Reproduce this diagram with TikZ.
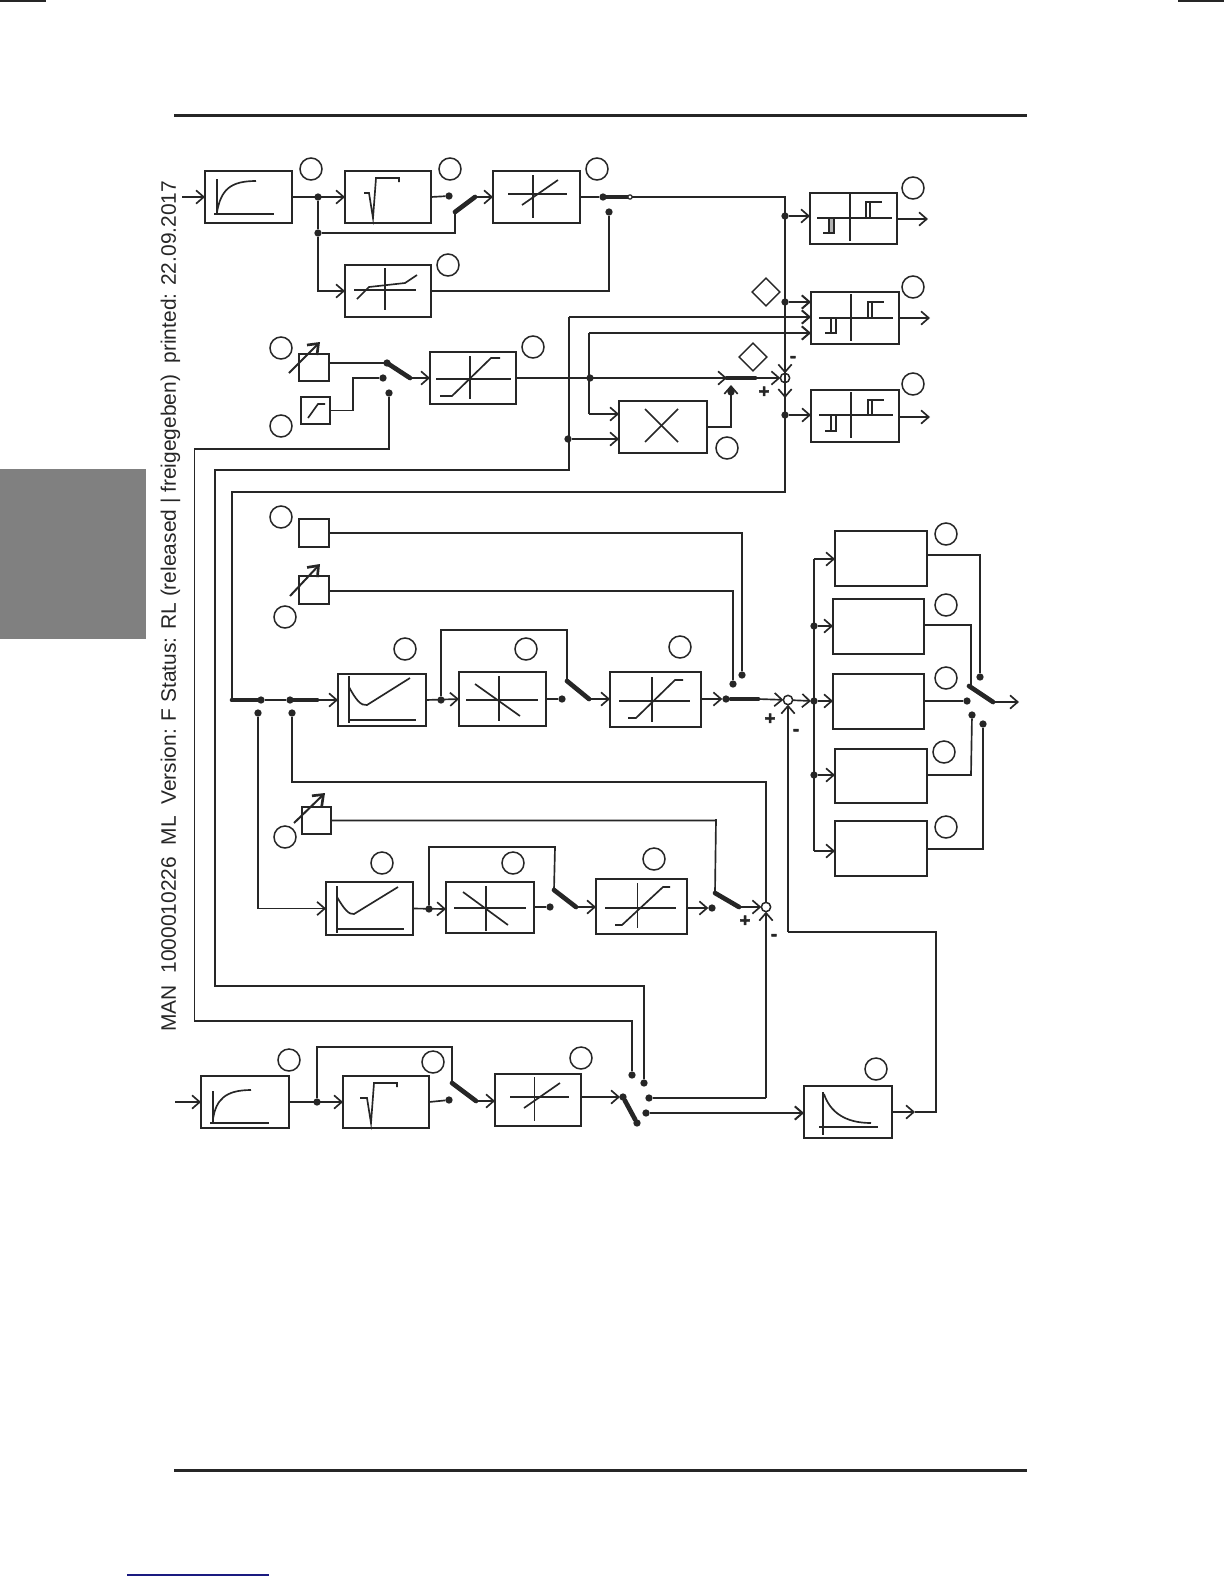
\documentclass[tikz,border=0pt]{standalone}
\usepackage{fontspec}
\setmainfont{Liberation Sans}
\newfontfamily\sgnfont[FakeBold=2.5]{Liberation Sans Bold}
\usetikzlibrary{arrows.meta,shapes.geometric}
\definecolor{ink}{HTML}{262626}
\definecolor{navy}{HTML}{1A1A80}
\tikzset{
  ln/.style={draw=ink,line width=1pt},
  bold/.style={draw=ink,line width=1.35pt},
  arr/.style={ln,-{Straight Barb[length=4.6pt,width=8pt,line width=1pt]}},
  barr/.style={bold,-{Straight Barb[length=4.6pt,width=8pt,line width=1.2pt]}},
  sw/.style={draw=ink,line width=2.8pt,line cap=round},
  setarr/.style={draw=ink,line width=1.2pt,-{Straight Barb[length=5.5pt,width=8.5pt,line width=1.6pt]}},
  blk/.style={draw=ink,line width=1.1pt,fill=white,inner sep=0pt,outer sep=0pt},
  ringn/.style={circle,draw=ink,line width=0.9pt,inner sep=0pt,minimum size=13.2pt},
  dotn/.style={circle,fill=ink,inner sep=0pt,outer sep=0pt,minimum size=4.4pt},
  smalld/.style={circle,draw=ink,line width=0.7pt,fill=white,inner sep=0pt,outer sep=0pt,minimum size=2.6pt},
  sumn/.style={circle,draw=ink,line width=0.9pt,fill=white,inner sep=0pt,outer sep=0pt,minimum size=5.6pt},
  diam/.style={diamond,draw=ink,line width=0.9pt,inner sep=0pt,minimum size=17pt,aspect=1},
  gl/.style={draw=ink,line width=1pt},
  glb/.style={draw=ink,line width=1.2pt},
  sgn/.style={font=\sgnfont\fontsize{11pt}{11pt}\selectfont,text=ink,inner sep=0pt},
}
\newcommand{\blk}[5]{\node[blk,minimum width={(#4-#2)*0.6pt},minimum height={(#5-#3)*0.6pt}] (#1) at ({(#2+#4)/2},{(#3+#5)/2}) {};}
\newcommand{\Ring}[3]{\node[ringn] (#1) at (#2,#3) {};}
\newcommand{\dt}[3]{\node[dotn] (#1) at (#2,#3) {};}
\newcommand{\pnt}[3]{\coordinate (#1) at (#2,#3);}
\begin{document}
\begin{tikzpicture}[x=0.6pt,y=-0.6pt]
\useasboundingbox (0,0) rectangle (1224,1584);
% page furniture
\fill[ink] (0,0.3) rectangle (46,2);
\fill[ink] (1178,0.3) rectangle (1224,2);
\fill[ink] (174,114) rectangle (1027,117);
\fill[ink] (174,1469) rectangle (1027,1471.5);
\fill[navy] (127,1574.4) rectangle (269,1575.6);
\fill[black!50] (0,469) rectangle (146,639);
\node[rotate=90,anchor=west,inner sep=0pt,text=ink,font=\fontsize{12.57pt}{12.6pt}\selectfont] (hdr) at (170.5,1032) {MAN\ \ 1000010226\ \ ML\ \ Version: F Status: RL (released | freigegeben)\ \ printed: 22.09.2017};
% blocks
\blk{A}{205}{171}{292}{223}
\blk{B}{345}{171}{431}{223}
\blk{C}{493}{171}{580}{223}
\blk{D}{345}{265}{431}{317}
\blk{E}{299}{354}{329}{381}
\blk{F}{301}{397}{330}{424}
\blk{G}{430}{352}{516}{404}
\blk{Mul}{619}{401}{707}{453}
\blk{HA}{810}{193}{897}{244}
\blk{HB}{811}{292}{899}{344}
\blk{HC}{811}{390}{899}{442}
\blk{J}{299}{519}{329}{547}
\blk{K}{299}{576}{329}{604}
\blk{L}{338}{674}{426}{726}
\blk{M}{459}{672}{546}{726}
\blk{N}{610}{672}{701}{727}
\blk{QA}{835}{531}{927}{586}
\blk{QB}{833}{599}{924}{654}
\blk{QC}{833}{674}{924}{729}
\blk{QD}{835}{749}{927}{803}
\blk{QE}{835}{821}{927}{876}
\blk{Kb}{302}{807}{331}{834}
\blk{Lb}{326}{882}{413}{935}
\blk{Mb}{446}{882}{534}{933}
\blk{Nb}{596}{879}{687}{934}
\blk{R}{201}{1076}{289}{1128}
\blk{S}{343}{1076}{429}{1128}
\blk{T}{495}{1074}{581}{1126}
\blk{P}{804}{1086}{892}{1138}
% rings
\Ring{c1}{311}{169}\Ring{c2}{450}{169}\Ring{c3}{597}{169}\Ring{c4}{448}{265}
\Ring{c5}{281}{348}\Ring{c6}{281}{426}\Ring{c7}{533}{347}\Ring{c8}{727}{448}
\Ring{c9}{913}{188}\Ring{c10}{913}{287}\Ring{c11}{913}{384}
\Ring{c12}{281}{517}\Ring{c13}{285}{617}\Ring{c14}{405}{649}\Ring{c15}{526}{649}\Ring{c16}{680}{647}
\Ring{c17}{946}{534}\Ring{c18}{946}{605}\Ring{c19}{946}{678}\Ring{c20}{944}{752}\Ring{c21}{946}{827}
\Ring{c22}{285}{837}\Ring{c23}{382}{863}\Ring{c24}{513}{863}\Ring{c25}{654}{859}
\Ring{c26}{289}{1060}\Ring{c27}{433}{1062}\Ring{c28}{581}{1058}\Ring{c29}{876}{1069}
\node[diam] (dA) at (766,292) {};
\node[diam] (dB) at (753,357) {};
% summing points
\node[sumn] (sumA) at (785,378) {};
\node[sumn] (sumB) at (788,700) {};
\node[sumn] (sumC) at (766,907) {};
% signs
\node[sgn] (pA) at (764,392) {+};
\node[sgn] (mA) at (793,359) {-};
\node[sgn] (pB) at (770,719) {+};
\node[sgn] (mB) at (796,732) {-};
\node[sgn] (pC) at (745,921) {+};
\node[sgn] (mC) at (774,937) {-};
% junctions and contacts
\dt{jA}{318}{197}\dt{jB}{318}{233}\dt{kA}{449}{196}
\pnt{sAp}{455}{212}\pnt{sAq}{475}{197}
\dt{kB}{603}{197}\dt{kC}{609}{212}\pnt{kD}{630}{197}
\dt{tA}{785}{216}\dt{tB}{785}{302}\dt{tC}{785}{415}
\pnt{sBp}{387}{363}\pnt{sBq}{410}{378}\dt{kE}{387}{363}\dt{kF}{383}{378}\dt{kG}{389}{393}
\dt{jC}{590}{378}\dt{jD}{568}{439}
\pnt{tkA}{727}{378}\pnt{tkB}{755}{378}\dt{kH}{731}{392}\pnt{tkC}{731}{385}
\pnt{rA}{232}{700}\dt{rB}{261}{700}\dt{rC}{290}{700}\pnt{rD}{317}{700}
\dt{rE}{258}{713}\dt{rF}{292}{713}
\dt{jE}{441}{700}\dt{kI}{562}{699}\pnt{sCp}{567}{681}\pnt{sCq}{589}{699}
\dt{kJ}{726}{699}\pnt{tkD}{731}{699}\pnt{tkE}{758}{699}
\dt{kK}{742}{675}\dt{kL}{733}{684}
\dt{bB}{814}{626}\dt{bC}{814}{701}\dt{bD}{814}{775}
\pnt{bA}{814}{559}\pnt{bE}{814}{851}
\pnt{sDp}{969}{686}\pnt{sDq}{993}{702}
\dt{kM}{980}{677}\dt{kN}{967}{701}\dt{kO}{972}{715}\dt{kP}{983}{724}
\dt{jF}{429}{909}\dt{kQ}{550}{907}\pnt{sEp}{554}{890}\pnt{sEq}{576}{907}
\dt{kR}{712}{908}\pnt{sFp}{715}{893}\pnt{sFq}{739}{907}
\dt{jG}{317}{1102}\dt{kS}{449}{1100}\pnt{sGp}{452}{1083}\pnt{sGq}{476}{1101}
\dt{kT}{623}{1097}\dt{kU}{637}{1123}\dt{kV}{649}{1098}\dt{kW}{646}{1113}\dt{kX}{632}{1075}\dt{kY}{644}{1083}
% routing points
\pnt{inA}{182}{197}\pnt{inR}{175}{1102}
\pnt{oA}{928}{219}\pnt{oB}{930}{318}\pnt{oC}{930}{417}
\pnt{vA}{785}{197}\pnt{vB}{785}{492}\pnt{vC}{785}{398}\pnt{vD}{232}{492}
\pnt{wA}{194.5}{449}\pnt{wB}{194.5}{1021}\pnt{wC}{632}{1021}
\pnt{xA}{569}{317}\pnt{xB}{569}{470}\pnt{xC}{215}{470}\pnt{xD}{215}{986}\pnt{xE}{644}{986}
\pnt{yA}{589}{333}\pnt{yB}{589}{414}
\pnt{zA}{353}{378}
\pnt{uA}{441}{630}\pnt{uB}{567}{630}
\pnt{uC}{429}{847}\pnt{uD}{555}{847}
\pnt{fA}{317}{1047}\pnt{fB}{452}{1047}
\pnt{nA}{766}{782}\pnt{qA}{742}{533}\pnt{qB}{733}{591}\pnt{qC}{716}{819}
\pnt{gA}{766}{1098}\pnt{gB}{936}{1112}\pnt{gC}{936}{932}\pnt{gD}{788}{932}\pnt{gE}{915}{1112}
\pnt{aB}{689}{908}\pnt{aC}{811}{701}\pnt{aD}{1019}{702}\pnt{aE}{620}{1097}
\pnt{eA}{971}{625}\pnt{eB}{971}{685}\pnt{eC}{980}{555}\pnt{eD}{971}{775}\pnt{eE}{983}{849}
% connectors, upper group
\draw[arr] (inA) -- (A.west);
\draw[arr] (A.east) -- (B.west);
\draw[ln] (jA) -- (jB);
\draw[arr] (jB) |- (D.west);
\draw[ln] (jB) -| (sAp);
\draw[ln] (B.east) -- (kA);
\draw[sw] (sAp) -- (sAq);
\draw[arr] (sAq) -- (C.west);
\draw[ln] (C.east) -- (kB);
\draw[sw] (kB) -- (kD);
\node[smalld] (kDd) at (kD) {};
\draw[ln] (kDd) -- (vA) -- (vB) -- (vD) -- (rA);
\draw[ln] (D.east) -| (kC);
\draw[arr] (tA) -- (tA -| HA.west);
\draw[barr] (tB) -- (tB -| HB.west);
\draw[arr] (tC) -- (tC -| HC.west);
\draw[arr] (HA.east |- oA) -- (oA);
\draw[arr] (HB.east |- oB) -- (oB);
\draw[arr] (HC.east |- oC) -- (oC);
\draw[arr] (vA) -- (sumA);
\draw[arr] (sumA) -- (vC);
\draw[ln] (E.east |- sBp) -- (sBp);
\draw[sw] (sBp) -- (sBq);
\draw[arr] (sBq) -- (G.west);
\draw[ln] (F.east) -| (zA) -- (kF);
\draw[ln] (kG) |- (wA) -- (wB) -- (wC) -- (kX);
\draw[arr] (G.east) -- (tkA);
\draw[sw] (tkA) -- (tkB);
\draw[arr] (tkB) -- (sumA);
\draw[bold] (yA) -- (yB);
\draw[barr] (yA) -- (yA -| HB.west);
\draw[barr] (xA) -- (xA -| HB.west);
\draw[arr] (yB) -- (yB -| Mul.west);
\draw[arr] (jD) -- (jD -| Mul.west);
\draw[bold] (xA) -- (xB) -- (xC) -- (xD) -- (xE) -- (kY);
\draw[arr] (Mul.east) -| (tkC);
% connectors, middle group
\draw[sw] (rA) -- (rB);
\draw[ln] (rB) -- (rC);
\draw[sw] (rC) -- (rD);
\draw[arr] (rD) -- (L.west);
\draw[arr] (rE) |- (Lb.west);
\draw[ln] (rF) |- (nA) -- (sumC);
\draw[ln] (J.east) -- (qA) -- (kK);
\draw[ln] (K.east |- qB) -- (qB) -- (kL);
\draw[arr] (L.east) -- (M.west);
\draw[ln] (jE) -- (uA) -- (uB) -- (sCp);
\draw[ln] (M.east |- kI) -- (kI);
\draw[sw] (sCp) -- (sCq);
\draw[arr] (sCq) -- (N.west |- sCq);
\draw[arr] (N.east |- kJ) -- (kJ);
\draw[sw] (tkD) -- (tkE);
\draw[arr] (tkE) -- (sumB);
\draw[arr] (sumB) -- (aC);
\draw[ln] (bA) -- (bE);
\draw[arr] (bA) -- (bA -| QA.west);
\draw[arr] (bB) -- (bB -| QB.west);
\draw[arr] (bC) -- (bC -| QC.west);
\draw[arr] (bD) -- (bD -| QD.west);
\draw[arr] (bE) -- (bE -| QE.west);
\draw[ln] (QA.east |- eC) -- (eC) -- (kM);
\draw[ln] (QB.east |- eA) -- (eA) -- (eB);
\draw[bold] (QC.east |- kN) -- (kN);
\draw[ln] (QD.east |- eD) -- (eD) -- (kO);
\draw[ln] (QE.east |- eE) -- (eE) -- (kP);
\draw[sw] (sDp) -- (sDq);
\draw[arr] (sDq) -- (aD);
% connectors, second chain
\draw[ln] (Kb.east) -| (qC) -- (sFp);
\draw[arr] (Lb.east) -- (Mb.west |- jF);
\draw[ln] (jF) -- (uC) -- (uD) -- (sEp);
\draw[ln] (Mb.east |- kQ) -- (kQ);
\draw[sw] (sEp) -- (sEq);
\draw[arr] (sEq) -- (Nb.west |- sEq);
\draw[arr] (Nb.east |- aB) -- (kR);
\draw[sw] (sFp) -- (sFq);
\draw[arr] (sFq) -- (sumC);
% connectors, bottom chain
\draw[arr] (inR) -- (R.west);
\draw[arr] (R.east) -- (S.west);
\draw[bold] (jG) -- (fA) -- (fB) -- (sGp);
\draw[ln] (S.east) -- (kS);
\draw[sw] (sGp) -- (sGq);
\draw[arr] (sGq) -- (T.west |- sGq);
\draw[arr] (T.east |- aE) -- (aE);
\draw[sw] (kT) -- (kU);
\draw[bold] (kV) -- (gA);
\draw[arr] (gA) -- (sumC);
\draw[barr] (kW) -- (kW -| P.west);
\draw[arr] (P.east) -- (gE);
\draw[ln] (gE) -- (gB) -- (gC) -- (gD);
\draw[arr] (gD) -- (sumB);
% arrows through the adjustable sources
\draw[setarr] (289,373) -- (320,342);
\draw[setarr] (290,596) -- (320,564);
\draw[setarr] (294,823) -- (325,793);
% glyph: first order lag
\draw[gl] (217,179) -- (217,215);
\draw[glb] (214,214) -- (274,214);
\draw[gl] (217,212) .. controls (221,190) and (230,181) .. (256,181);
\draw[gl] (213,1119) .. controls (216,1100) and (225,1090) .. (251,1090);
\draw[gl] (213,1091) -- (213,1124);
\draw[glb] (210,1123) -- (269,1123);
% glyph: root
\draw[gl] (364,193) -- (369,193) -- (373,218) -- (376,178) -- (399,178) -- (399,182);
\draw[gl] (360,1098) -- (367,1098) -- (371,1123) -- (374,1083) -- (397,1083) -- (397,1087);
% glyph: linear
\draw[glb] (508,194) -- (567,194);
\draw[gl] (533,175) -- (533,218);
\draw[gl] (522,205) -- (558,180);
\draw[glb] (510,1097) -- (569,1097);
\draw[gl] (534.5,1077) -- (534.5,1121);
\draw[gl] (524,1108) -- (560,1083);
% glyph: dead zone
\draw[gl] (354,290) -- (416,290);
\draw[gl] (385,268) -- (385,310);
\draw[gl] (357,299) -- (369,287) -- (405,283) -- (417,275);
% glyph: small ramp
\draw[gl] (308,418) -- (318,404) -- (325,404);
% glyph: saturation
\draw[gl] (436,379) -- (511,379);
\draw[gl] (470,356) -- (470,399);
\draw[gl] (440,396) -- (452,396) -- (491,358) -- (500,358);
\draw[gl] (619,701) -- (690,701);
\draw[gl] (652,677) -- (652,722);
\draw[gl] (628,718) -- (636,718) -- (675,680) -- (683,680);
\draw[gl] (605,908) -- (676,908);
\draw[gl] (637.5,883) -- (637.5,928);
\draw[gl] (615,925) -- (622,925) -- (663,887) -- (670,887);
% glyph: multiply
\draw[gl] (645,409) -- (678,442);
\draw[gl] (645,442) -- (678,409);
% glyph: relays
\fill[black!30] (829,219) rectangle (834,233);
\draw[glb] (817,218) -- (892,218);
\draw[gl] (850,194) -- (850,241);
\draw[gl] (866,218) -- (866,202) -- (882,202);
\draw[gl] (870,218) -- (870,202);
\draw[gl] (823,233) -- (834,233) -- (834,219);
\draw[gl] (829,233) -- (829,219);
\draw[glb] (819,318) -- (893,318);
\draw[gl] (851,294) -- (851,341);
\draw[gl] (868,318) -- (868,302) -- (884,302);
\draw[gl] (872,318) -- (872,302);
\draw[gl] (825,333) -- (836,333) -- (836,319);
\draw[gl] (831,333) -- (831,319);
\draw[glb] (819,415) -- (893,415);
\draw[gl] (851,392) -- (851,438);
\draw[gl] (868,415) -- (868,400) -- (884,400);
\draw[gl] (872,415) -- (872,400);
\draw[gl] (825,431) -- (836,431) -- (836,416);
\draw[gl] (831,431) -- (831,416);
% glyph: characteristic with minimum
\draw[glb] (349,676) -- (349,723);
\draw[gl] (348,720) -- (416,720);
\draw[gl] (349,687) .. controls (356,700) and (361,706) .. (367,705) -- (410,678);
\draw[glb] (337,886) -- (337,933);
\draw[glb] (336,929) -- (404,929);
\draw[gl] (337,897) .. controls (344,909) and (349,915) .. (354,914) -- (398,887);
% glyph: inverting
\draw[gl] (466,700) -- (538,700);
\draw[glb] (499,676) -- (499,721);
\draw[gl] (475,684) -- (520,716);
\draw[glb] (454,908) -- (526,908);
\draw[glb] (486,886) -- (486,931);
\draw[gl] (463,892) -- (508,925);
% glyph: decay
\draw[gl] (823,1092) -- (823,1135);
\draw[glb] (819,1127) -- (878,1127);
\draw[gl] (824,1094) .. controls (830,1112) and (845,1123) .. (871,1123);
\end{tikzpicture}
\end{document}
